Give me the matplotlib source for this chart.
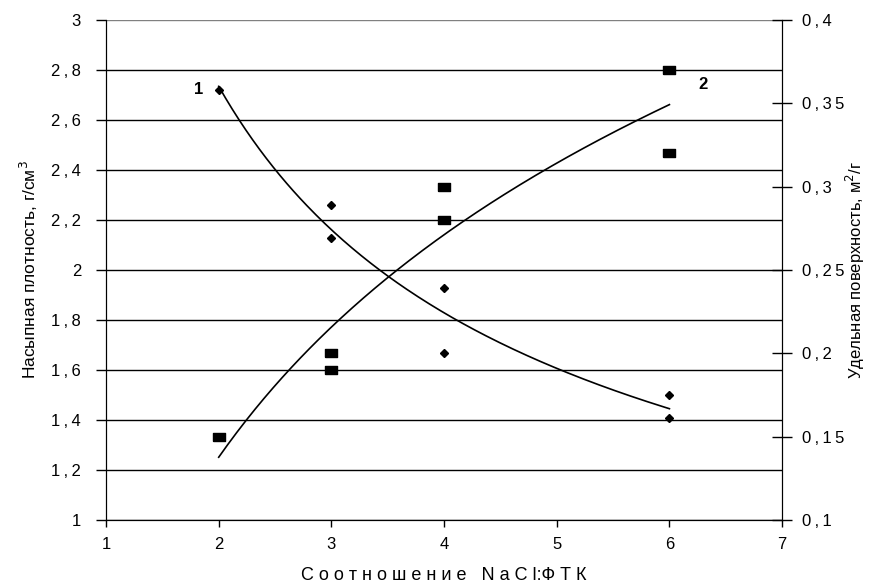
import numpy as np
import matplotlib
matplotlib.use("Agg")
import matplotlib.pyplot as plt

plt.rcParams['font.family'] = ['Liberation Sans', 'DejaVu Sans']

# серия 1 - насыпная плотность (левая ось)
x1 = [2, 3, 3, 4, 4, 6, 6]
y1 = [2.72, 2.26, 2.13, 1.93, 1.67, 1.50, 1.41]
# серия 2 - удельная поверхность (правая ось)
x2 = [2, 3, 3, 4, 4, 6, 6]
y2 = [0.15, 0.20, 0.19, 0.30, 0.28, 0.37, 0.32]

left_ticks = [1, 1.2, 1.4, 1.6, 1.8, 2, 2.2, 2.4, 2.6, 2.8, 3]
right_ticks = [0.1, 0.15, 0.2, 0.25, 0.3, 0.35, 0.4]
x_ticks = [1, 2, 3, 4, 5, 6, 7]


def fmt(v):
    # разрядка как в Excel
    return '\u2009'.join(('%g' % v).replace('.', ','))


fig = plt.figure(figsize=(8.69, 5.87), dpi=100)
ax = fig.add_axes([0.122, 0.114, 0.778, 0.852])
ax2 = ax.twinx()

# линии тренда: степенная для 1, логарифмическая для 2
b1, a1 = np.polyfit(np.log(x1), np.log(y1), 1)
b2, a2 = np.polyfit(np.log(x2), y2, 1)
xt = np.linspace(min(x1), max(x1), 200)

for v in left_ticks:
    ax.axhline(v, color='black' if v < 3 else '#808080', lw=1, zorder=1)

rect = [(-1, -0.65), (1, -0.65), (1, 0.65), (-1, 0.65), (-1, -0.65)]
ax.plot(xt, np.exp(a1) * xt ** b1, color='black', lw=1.2, zorder=3)
ax.plot(x1, y1, linestyle='none', marker='D', markersize=3.8, color='black', zorder=4)
ax2.plot(xt, a2 + b2 * np.log(xt), color='black', lw=1.2, zorder=3)
ax2.plot(x2, y2, linestyle='none', marker=rect, markersize=8, color='black', zorder=4)

ax.set_xlim(1, 7)
ax.set_ylim(1, 3)
ax2.set_ylim(0.1, 0.4)

ax.set_xticks(x_ticks)
ax.set_xticklabels([str(v) for v in x_ticks])
ax.set_yticks(left_ticks)
ax.set_yticklabels([fmt(v) for v in left_ticks])
ax2.set_yticks(right_ticks)
ax2.set_yticklabels([fmt(v) for v in right_ticks])

for a in (ax, ax2):
    a.spines['top'].set_visible(False)
    a.tick_params(labelsize=12, width=1, color='black')
ax.tick_params(axis='y', direction='out', length=7, pad=11)
ax.tick_params(axis='x', direction='out', length=5, pad=7)
ax2.tick_params(axis='y', direction='inout', length=14, pad=7)

ax.set_xlabel('С о о т н о ш е н и е   N a C l:Ф Т К', fontsize=13, labelpad=11)
ax.set_ylabel('Насыпная плотность, г/см$^3$', fontsize=12.5, labelpad=8)
ax2.set_ylabel('Удельная поверхность, м$^2$/г', fontsize=12, labelpad=0)

ax.text(1.82, 2.72, '1', fontsize=12, fontweight='bold', ha='center', va='center')
ax.text(6.3, 2.74, '2', fontsize=12, fontweight='bold', ha='center', va='center')

fig.savefig('out.png', dpi=100)
